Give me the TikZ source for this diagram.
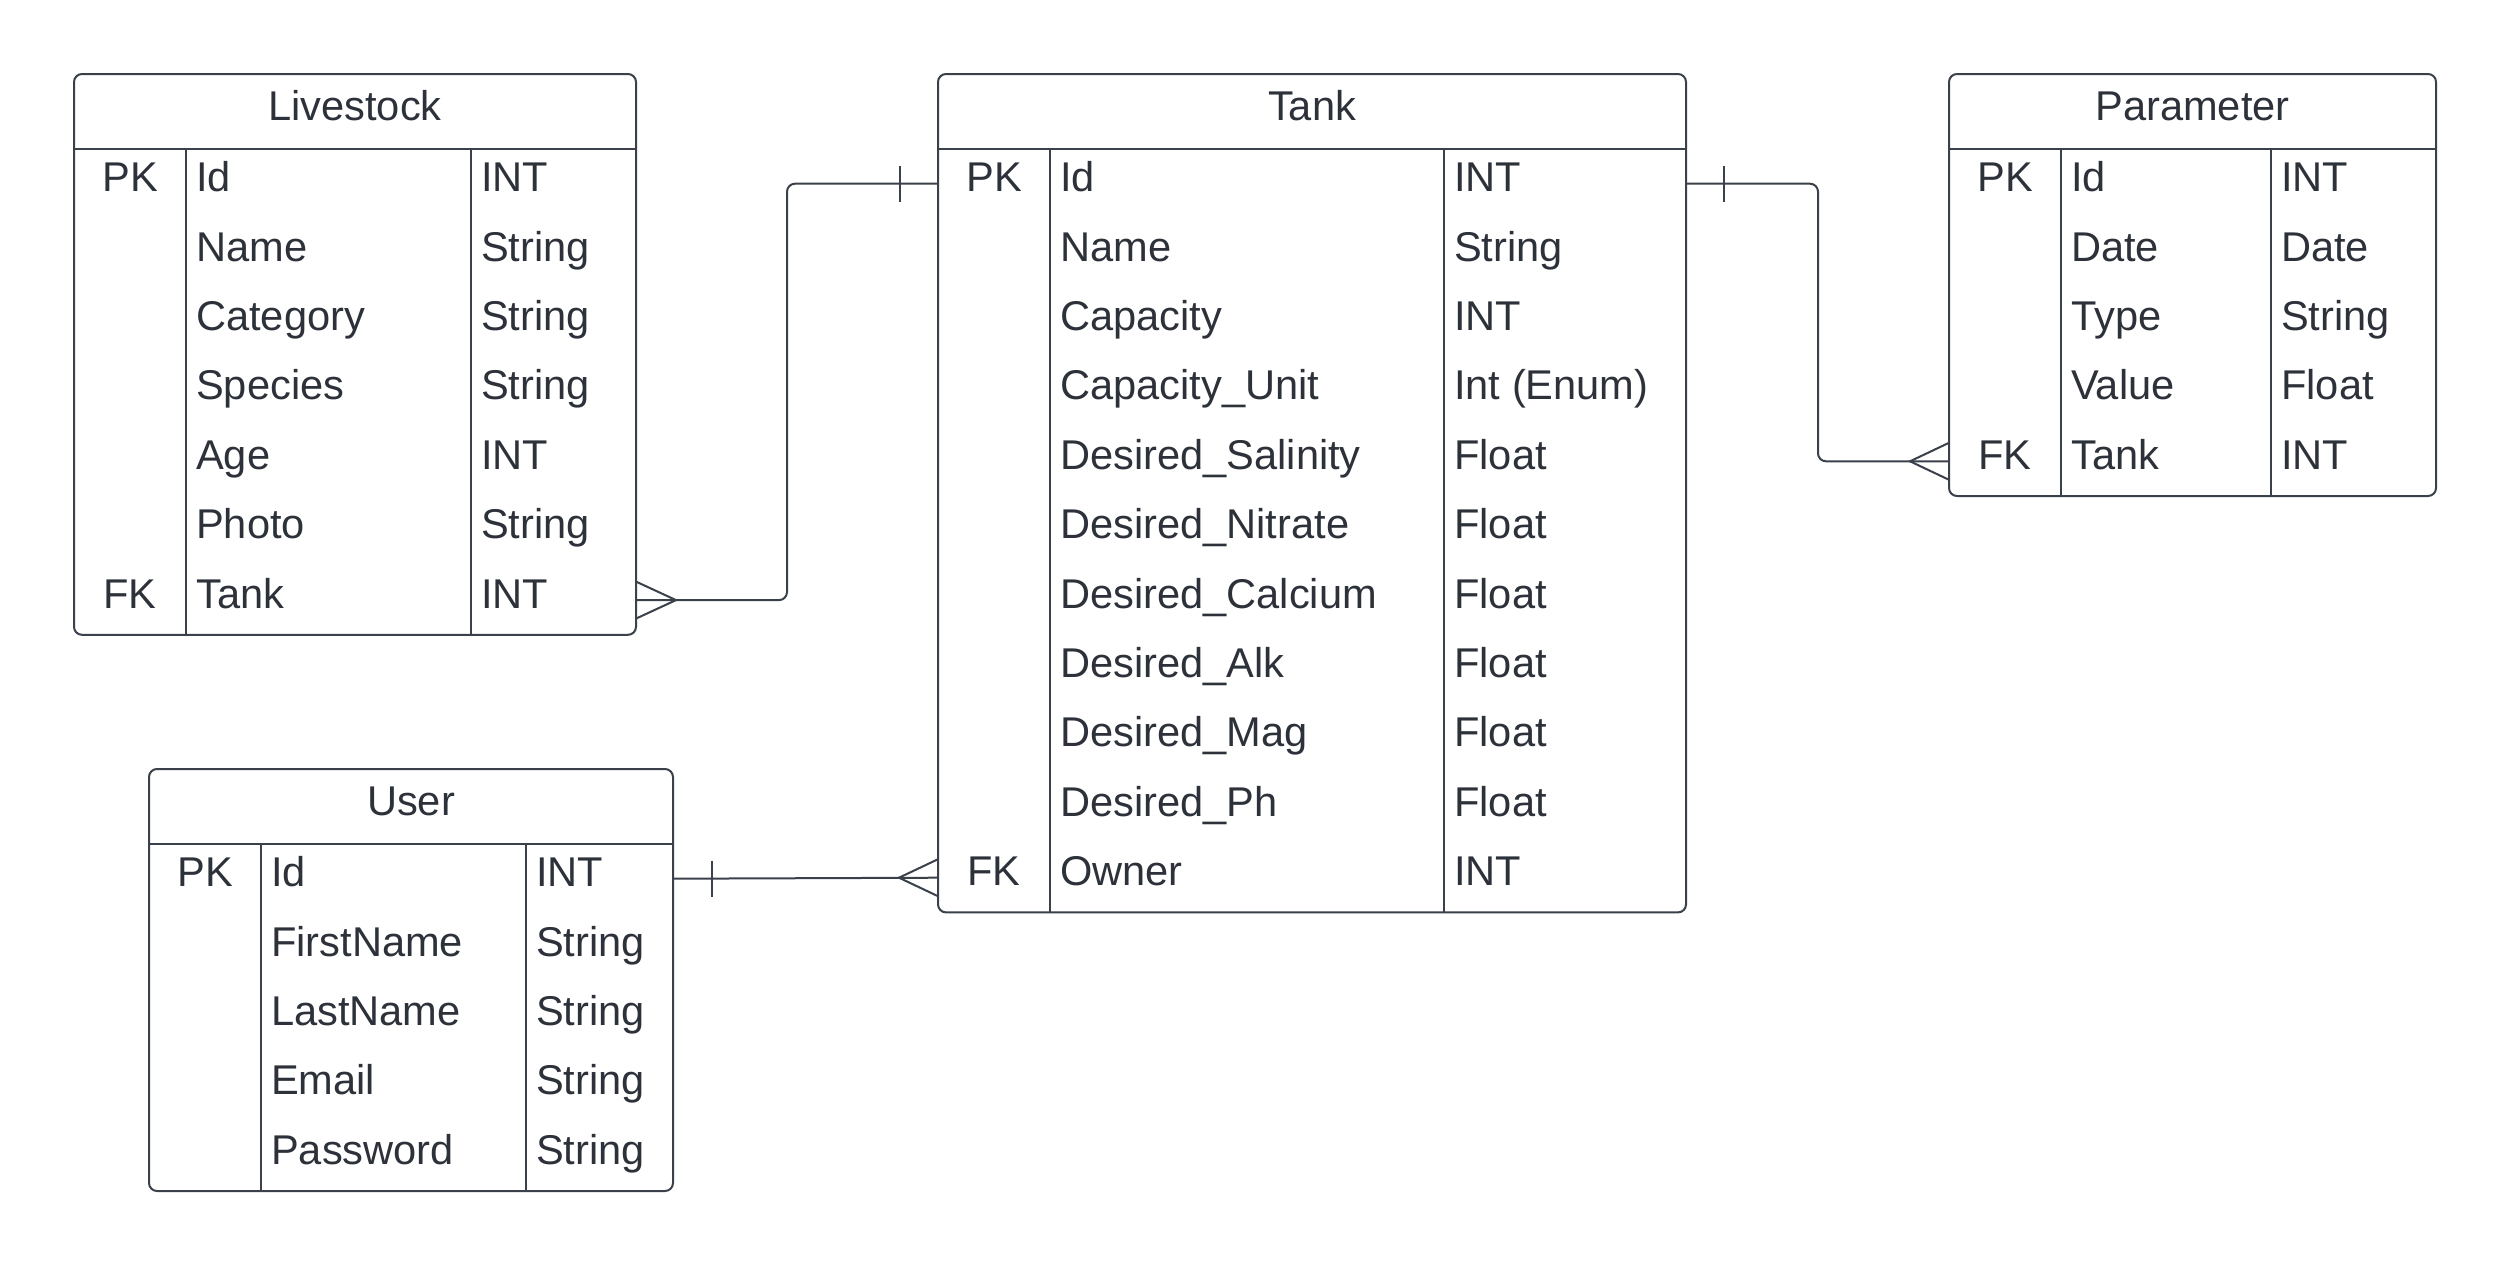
\documentclass[tikz,border=0pt]{standalone}
\usepackage{fontspec}
\setmainfont{Liberation Sans}
\definecolor{ln}{RGB}{58,65,74}
\definecolor{tx}{RGB}{45,50,58}
\newcommand\ertable[9]{%
  \pgfmathsetmacro\yh{#6+75}%
  \pgfmathsetmacro\yb{#6+75+#7*69.4}%
  \node[box, minimum width={(#5-#2)*1pt}, minimum height={(\yb-#6)*1pt}] (#1) at (#2,#6) {};
  \draw[sep] (#2,\yh) -- (#5,\yh);
  \draw[sep] (#3,\yh) -- (#3,\yb);
  \draw[sep] (#4,\yh) -- (#4,\yb);
  \node[hd] (#1-title) at ({(#2+#5)/2}, #6+46) {#8};
  \foreach \k/\n/\t [count=\i] in {#9} {
    \pgfmathsetmacro\yc{\yh+(\i-0.5)*69.4}
    \pgfmathsetmacro\yy{\yc+8}
    \node[hd] (#1-k\i) at ({(#2+#3)/2}, \yy) {\k};
    \node[cell] (#1-n\i) at (#3+10, \yy) {\n};
    \node[cell] (#1-t\i) at (#4+10, \yy) {\t};
    \coordinate (#1-r\i) at (#2, \yc);
    \coordinate (#1-R\i) at (#5, \yc);
  }
}
\begin{document}
\begin{tikzpicture}[x=1pt,y=-1pt,
  box/.style={draw=ln, line width=2pt, rounded corners=8pt, inner sep=0pt, outer sep=0pt, anchor=north west},
  sep/.style={draw=ln, line width=2pt},
  conn/.style={draw=ln, line width=2pt, rounded corners=8pt},
  erend/.style={draw=ln, line width=2pt},
  hd/.style={text=tx, font=\fontsize{41.6}{50}\selectfont, anchor=base, inner sep=0pt},
  cell/.style={text=tx, font=\fontsize{41.6}{50}\selectfont, anchor=base west, inner sep=0pt}]
\useasboundingbox[fill=white] (0,0) rectangle (2513,1266);

\ertable{ls}{74}{186}{471}{636}{74}{7}{Livestock}{PK/Id/INT, {}/Name/String, {}/Category/String, {}/Species/String, {}/Age/INT, {}/Photo/String, FK/Tank/INT}
\ertable{tk}{938}{1050}{1444}{1686}{74}{11}{Tank}{PK/Id/INT, {}/Name/String, {}/Capacity/INT, {}/Capacity\_Unit/{Int (Enum)}, {}/Desired\_Salinity/Float, {}/Desired\_Nitrate/Float, {}/Desired\_Calcium/Float, {}/Desired\_Alk/Float, {}/Desired\_Mag/Float, {}/Desired\_Ph/Float, FK/Owner/INT}
\ertable{pm}{1949}{2061}{2271}{2436}{74}{5}{Parameter}{PK/Id/INT, {}/Date/Date, {}/Type/String, {}/Value/Float, FK/Tank/INT}
\ertable{us}{149}{261}{526}{673}{769}{5}{User}{PK/Id/INT, {}/FirstName/String, {}/LastName/String, {}/Email/String, {}/Password/String}

% Livestock.Tank -> Tank.Id
\draw[conn] (ls-R7) -- ++(151,0) |- (tk-r1);
\draw[erend] (ls-R7) ++(0,-18.5) -- ++(40,18.5) -- ++(-40,18.5);
\draw[erend] (tk-r1) ++(-38,-18) -- ++(0,36);

% Tank.Id -> Parameter.Tank
\draw[conn] (tk-R1) -- ++(132,0) |- (pm-r5);
\draw[erend] (pm-r5) ++(0,-18.5) -- ++(-39,18.5) -- ++(39,18.5);
\draw[erend] (tk-R1) ++(38,-18) -- ++(0,36);

% User.Id -> Tank.Owner
\draw[conn] (us-R1) -- (tk-r11);
\draw[erend] (tk-r11) ++(0,-18.5) -- ++(-39,18.5) -- ++(39,18.5);
\draw[erend] (us-R1) ++(39,-18) -- ++(0,36);
\end{tikzpicture}
\end{document}
